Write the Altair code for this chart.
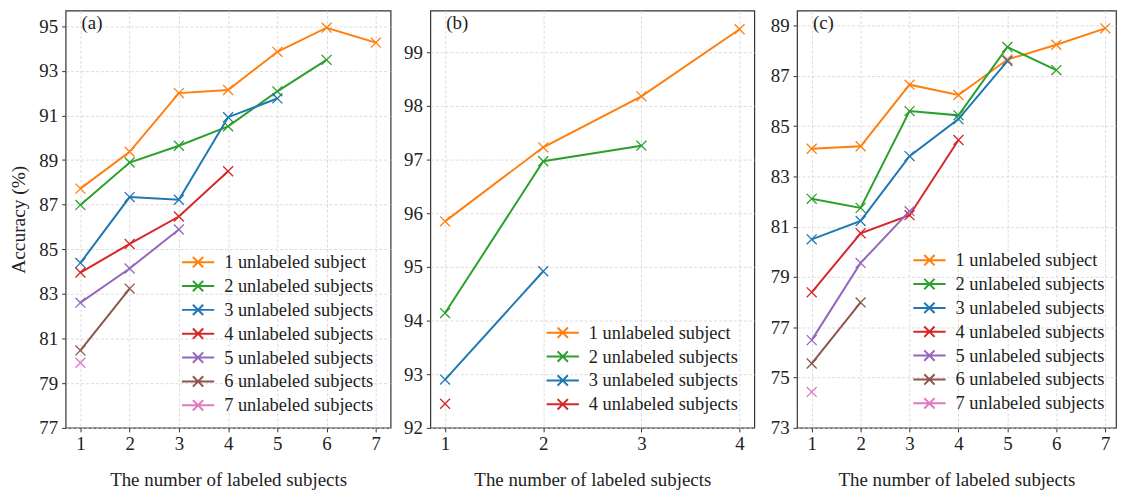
import altair as alt
import pandas as pd

# ---------------- data ----------------
x_ticks_a = [1, 2, 3, 4, 5, 6, 7]
x_ticks_b = [1, 2, 3, 4]
x_ticks_c = [1, 2, 3, 4, 5, 6, 7]

series_names = [
    "1 unlabeled subject",
    "2 unlabeled subjects",
    "3 unlabeled subjects",
    "4 unlabeled subjects",
    "5 unlabeled subjects",
    "6 unlabeled subjects",
    "7 unlabeled subjects",
]
colors = ["#ff7f0e", "#2ca02c", "#1f77b4", "#d62728", "#9467bd", "#8c564b", "#e377c2"]

# panel (a)
a_s1 = [87.72, 89.37, 92.00, 92.14, 93.85, 94.93, 94.26]
a_s2 = [86.99, 88.89, 89.64, 90.51, 92.08, 93.49]
a_s3 = [84.39, 87.34, 87.22, 90.92, 91.76]
a_s4 = [83.96, 85.24, 86.47, 88.50]
a_s5 = [82.61, 84.14, 85.89]
a_s6 = [80.47, 83.24]
a_s7 = [79.92]

# panel (b)
b_s1 = [95.85, 97.23, 98.18, 99.43]
b_s2 = [94.14, 96.97, 97.26]
b_s3 = [92.90, 94.92]
b_s4 = [92.45]

# panel (c)
c_s1 = [84.10, 84.20, 86.65, 86.24, 87.65, 88.24, 88.89]
c_s2 = [82.11, 81.75, 85.60, 85.43, 88.15, 87.23]
c_s3 = [80.50, 81.23, 83.81, 85.28, 87.59]
c_s4 = [78.39, 80.74, 81.46, 84.45]
c_s5 = [76.49, 79.56, 81.62]
c_s6 = [75.56, 77.99]
c_s7 = [74.43]

y_ticks_a = [77, 79, 81, 83, 85, 87, 89, 91, 93, 95]
y_ticks_b = [92, 93, 94, 95, 96, 97, 98, 99]
y_ticks_c = [73, 75, 77, 79, 81, 83, 85, 87, 89]


def make_df(series_lists):
    rows = []
    for i, vals in enumerate(series_lists):
        for j, v in enumerate(vals):
            rows.append({"x": j + 1, "acc": v, "series": series_names[i], "k": i})
    return pd.DataFrame(rows)


FONT = "Liberation Serif"
X_PATH = "M-1,-1L1,1M-1,1L1,-1"
LEG_PATH = "M-2.5,0H2.5M-0.8,-0.8L0.8,0.8M-0.8,0.8L0.8,-0.8"


def panel(series_lists, xdom, xticks, ydom, yticks, width, label, legx, legy, ytitle):
    df = make_df(series_lists)
    n = len(series_lists)
    names = series_names[:n]
    color = alt.Color(
        "series:N",
        sort=names,
        scale=alt.Scale(domain=names, range=colors[:n]),
        legend=alt.Legend(
            title=None,
            orient="none",
            legendX=legx,
            legendY=legy,
            symbolType=LEG_PATH,
            symbolSize=169,
            symbolStrokeWidth=2,
            symbolFillColor="transparent",
            labelFont=FONT,
            labelFontSize=18.5,
            labelColor="#222",
            labelOffset=17,
            rowPadding=5,
            padding=0,
            labelLimit=400,
        ),
    )
    if ytitle:
        yaxis = alt.Axis(values=yticks, format="d", grid=True, title=ytitle,
                         titleFontSize=19.5, titlePadding=10)
    else:
        yaxis = alt.Axis(values=yticks, format="d", grid=True, title=None)
    base = alt.Chart(df).encode(
        x=alt.X(
            "x:Q",
            scale=alt.Scale(domain=xdom, nice=False, zero=False),
            axis=alt.Axis(values=xticks, format="d", title="The number of labeled subjects",
                          titlePadding=17, labelPadding=3),
        ),
        y=alt.Y(
            "acc:Q",
            scale=alt.Scale(domain=ydom, nice=False, zero=False),
            axis=yaxis,
        ),
        color=color,
        detail="series:N",
        order="x:Q",
    )
    line = base.mark_line(strokeWidth=2, clip=True)
    pts = base.mark_point(shape=X_PATH, size=100, filled=False, strokeWidth=1.3, opacity=1)
    txt = (
        alt.Chart(pd.DataFrame({"t": [label]}))
        .mark_text(font=FONT, fontSize=19, color="#222", align="left", baseline="middle")
        .encode(text="t:N", x=alt.value(16), y=alt.value(13))
    )
    return alt.layer(line, pts, txt).properties(width=width, height=420)


pa = panel([a_s1, a_s2, a_s3, a_s4, a_s5, a_s6, a_s7], [0.7, 7.3], x_ticks_a,
           [77, 95.7], y_ticks_a, 327, "(a)", 124, 244, "Accuracy (%)")
pb = panel([b_s1, b_s2, b_s3, b_s4], [0.85, 4.15], x_ticks_b,
           [92, 99.78], y_ticks_b, 326, "(b)", 124, 315, None)
pc = panel([c_s1, c_s2, c_s3, c_s4, c_s5, c_s6, c_s7], [0.7, 7.22], x_ticks_c,
           [73, 89.6], y_ticks_c, 321, "(c)", 124, 242, None)

left = (
    alt.hconcat(pa, pb, spacing=11)
    .resolve_scale(color="independent")
    .resolve_legend(color="independent")
)

chart = (
    alt.hconcat(left, pc, spacing=14)
    .resolve_scale(color="independent")
    .resolve_legend(color="independent")
    .properties(padding=0)
    .configure_view(stroke="#333", strokeWidth=1.2)
    .configure_axis(
        domain=False,
        grid=True,
        gridColor="#d3d3d3",
        gridDash=[3, 2],
        gridWidth=0.8,
        tickColor="#333",
        tickSize=4,
        labelPadding=4,
        labelFont=FONT,
        labelFontSize=19,
        labelColor="#222",
        titleFont=FONT,
        titleFontSize=19,
        titleFontWeight="normal",
        titleColor="#222",
        titlePadding=10,
    )
)

chart.save("out.html", embed_options={"renderer": "svg", "actions": False})
